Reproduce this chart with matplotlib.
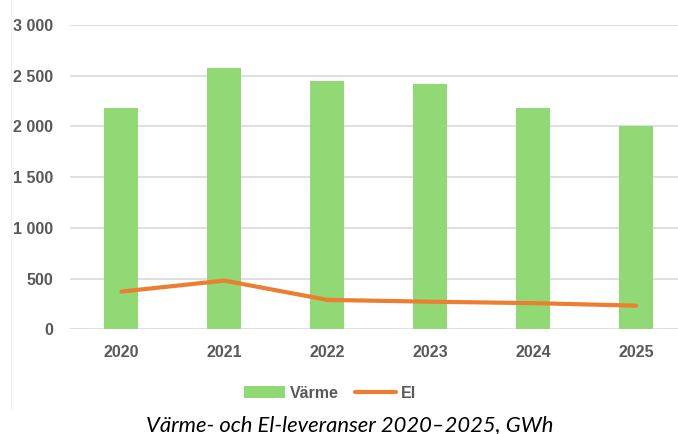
import matplotlib
matplotlib.use("Agg")
import matplotlib.pyplot as plt
from matplotlib.lines import Line2D
from matplotlib.patches import Patch
from matplotlib.ticker import FuncFormatter

years = ["2020", "2021", "2022", "2023", "2024", "2025"]
varme = [2180, 2575, 2450, 2418, 2180, 2000]
el = [372, 480, 290, 272, 258, 233]
yticks = [0, 500, 1000, 1500, 2000, 2500, 3000]

W, H = 678, 434
fig = plt.figure(figsize=(W / 100, H / 100), dpi=100)
ax = fig.add_axes([70 / W, (H - 329.3) / H, 608 / W, (329.3 - 25) / H])

x = list(range(len(years)))
green = "#90D975"
orange = "#ED7D31"
tick_color = "#595959"

ax.bar(x, varme, width=0.33, color=green, zorder=2)
ax.plot(x, el, color=orange, lw=3.0, solid_capstyle="round", solid_joinstyle="round", zorder=3)

ax.set_xlim(-0.5, -0.5 + 608 / 102.92)
ax.set_ylim(0, 3000)
ax.set_yticks(yticks)
ax.yaxis.set_major_formatter(FuncFormatter(lambda v, p: f"{int(v):,}".replace(",", " ")))
ax.set_xticks(x)
ax.set_xticklabels(years)

for s in ax.spines.values():
    s.set_visible(False)
ax.grid(axis="y", color="#d9d9d9", lw=1.2, zorder=0)
ax.set_axisbelow(True)
ax.tick_params(axis="both", length=0, labelsize=11.5, labelcolor=tick_color)
ax.tick_params(axis="y", pad=12)
ax.tick_params(axis="x", pad=11)
for lab in ax.get_xticklabels() + ax.get_yticklabels():
    lab.set_fontfamily("Liberation Sans")
    lab.set_fontweight("bold")

handles = [Patch(facecolor=green, edgecolor="none"),
           Line2D([0], [0], color=orange, lw=3.0, solid_capstyle="round")]
leg = fig.legend(handles, ["Värme", "El"], loc="center", ncol=2,
                 bbox_to_anchor=(330 / W, 1 - 393 / H), frameon=False,
                 prop={"family": "Liberation Sans", "weight": "bold", "size": 11.5},
                 handlelength=2.6, handletextpad=0.3, columnspacing=1.0, borderaxespad=0)
for t in leg.get_texts():
    t.set_color(tick_color)

fig.add_artist(Line2D([10.5 / W, 10.5 / W], [1, 1 - 408 / H], color="#eeeeee", lw=0.8))

fig.text(349.5 / W, 1 - 431.5 / H, "Värme- och El-leveranser 2020–2025, GWh",
         ha="center", va="baseline", style="italic", fontsize=15.8,
         family="Lato", color="#000000")

fig.savefig("out.png", dpi=100)
